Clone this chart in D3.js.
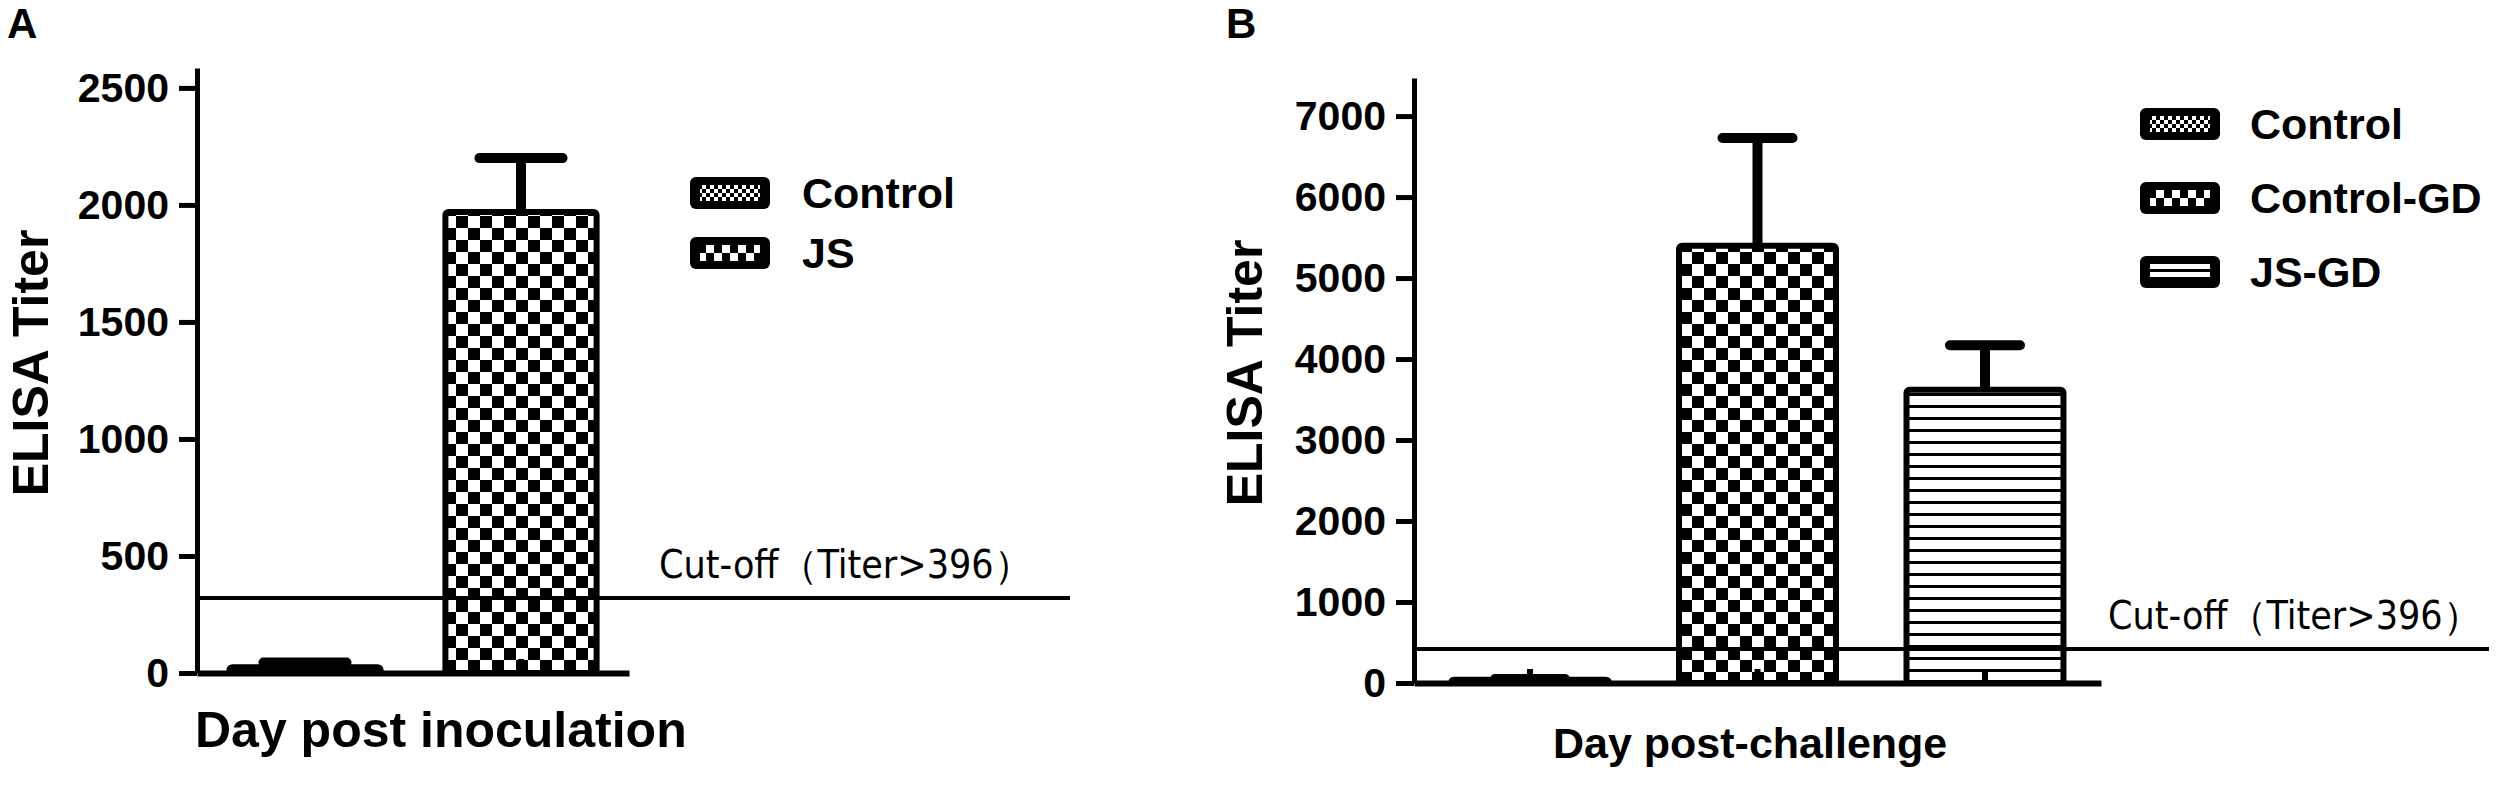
<!DOCTYPE html>
<html>
<head>
<meta charset="utf-8">
<script src="https://cdn.jsdelivr.net/npm/d3@7"></script>
<style>
  body { margin: 0; background: #fff; }
  text { font-family: "Liberation Sans", Arial, sans-serif; fill: #000; }
  .narrow { font-family: "Liberation Sans Narrow", "Arial Narrow", "DejaVu Sans Condensed", sans-serif; }
</style>
</head>
<body>
<div id="chart"></div>
<script>
// panel A - after inoculation
var categoriesA = ["Control", "JS"];
var meansA = [25, 1970];
var errorsA = [20, 230];
var ticksA = [0, 500, 1000, 1500, 2000, 2500];
var cutoffA = 320;

// panel B - after challenge
var categoriesB = ["Control", "Control-GD", "JS-GD"];
var meansB = [40, 5400, 3620];
var errorsB = [10, 1330, 550];
var ticksB = [0, 1000, 2000, 3000, 4000, 5000, 6000, 7000];
var cutoffB = 420;

var cutoffLabel = "Cut-off（Titer>396）";

var W = 2498, H = 788;

var svg = d3.select("#chart")
  .append("svg")
  .attr("width", W)
  .attr("height", H);

svg.append("rect").attr("width", W).attr("height", H).attr("fill", "#fff");

var defs = svg.append("defs");

function makeChecker(id, cell) {
  var p = defs.append("pattern")
    .attr("id", id)
    .attr("patternUnits", "userSpaceOnUse")
    .attr("width", cell * 2)
    .attr("height", cell * 2);
  p.append("rect").attr("width", cell * 2).attr("height", cell * 2).attr("fill", "#fff");
  p.append("rect").attr("width", cell).attr("height", cell).attr("fill", "#000");
  p.append("rect").attr("x", cell).attr("y", cell).attr("width", cell).attr("height", cell).attr("fill", "#000");
}

function makeStripes(id, period, lw) {
  var p = defs.append("pattern")
    .attr("id", id)
    .attr("patternUnits", "userSpaceOnUse")
    .attr("width", period)
    .attr("height", period);
  p.append("rect").attr("width", period).attr("height", period).attr("fill", "#fff");
  p.append("rect").attr("y", period - lw).attr("width", period).attr("height", lw).attr("fill", "#000");
}

makeChecker("fine", 4);
makeChecker("checker", 12);
makeChecker("checkerSmall", 8);
makeStripes("stripes", 12, 3);
makeStripes("stripesSmall", 8, 3);

function drawPanel(o) {
  var g = svg.append("g");

  var y = d3.scaleLinear()
    .domain([0, o.yMax])
    .range([o.bottom, o.top]);

  var x = d3.scaleBand()
    .domain(o.categories)
    .range([o.axisX, o.xEnd])
    .paddingInner(o.padIn)
    .paddingOuter(o.padOut);

  // bars
  g.selectAll(".bar")
    .data(o.categories)
    .enter()
    .append("rect")
    .attr("class", "bar")
    .attr("x", function(d) { return x(d); })
    .attr("y", function(d, i) { return y(o.means[i]); })
    .attr("width", x.bandwidth())
    .attr("height", function(d, i) { return y(0) - y(o.means[i]); })
    .attr("rx", 3)
    .attr("fill", function(d, i) { return "url(#" + o.fills[i] + ")"; })
    .attr("stroke", "#000")
    .attr("stroke-width", 6);

  // error bars (upper only)
  g.selectAll(".stem")
    .data(o.categories)
    .enter()
    .append("line")
    .attr("x1", function(d) { return x(d) + x.bandwidth() / 2; })
    .attr("x2", function(d) { return x(d) + x.bandwidth() / 2; })
    .attr("y1", function(d, i) { return y(o.means[i]); })
    .attr("y2", function(d, i) { return y(o.means[i] + o.errors[i]); })
    .attr("stroke", "#000")
    .attr("stroke-width", 10);

  g.selectAll(".cap")
    .data(o.categories)
    .enter()
    .append("line")
    .attr("x1", function(d) { return x(d) + x.bandwidth() / 2 - o.capW / 2 + 5; })
    .attr("x2", function(d) { return x(d) + x.bandwidth() / 2 + o.capW / 2 - 5; })
    .attr("y1", function(d, i) { return y(o.means[i] + o.errors[i]); })
    .attr("y2", function(d, i) { return y(o.means[i] + o.errors[i]); })
    .attr("stroke", "#000")
    .attr("stroke-width", 10)
    .attr("stroke-linecap", "round");

  // cut-off line
  g.append("line")
    .attr("x1", o.axisX)
    .attr("x2", o.cutEnd)
    .attr("y1", y(o.cutoff))
    .attr("y2", y(o.cutoff))
    .attr("stroke", "#000")
    .attr("stroke-width", 4);

  g.append("text")
    .attr("class", "narrow")
    .attr("x", o.cutLabelX)
    .attr("y", y(o.cutoff) - 20)
    .attr("font-size", 39)
    .text(cutoffLabel);

  // x axis
  g.append("g")
    .attr("transform", "translate(0," + y(0) + ")")
    .call(d3.axisBottom(x).tickSizeInner(-14).tickSizeOuter(0).tickFormat(""))
    .call(function(a) {
      a.selectAll("path, line").attr("stroke", "#000").attr("stroke-width", 6);
    });

  // y axis
  g.append("g")
    .attr("transform", "translate(" + o.axisX + ",0)")
    .call(d3.axisLeft(y).tickValues(o.ticks).tickFormat(d3.format("d"))
      .tickSize(18).tickSizeOuter(0).tickPadding(10))
    .call(function(a) {
      a.selectAll("path, line").attr("stroke", "#000").attr("stroke-width", 5);
      a.selectAll("text")
        .attr("font-size", 41)
        .attr("font-weight", "bold")
        .attr("font-family", "'Liberation Sans', Arial, sans-serif");
    });

  // axis titles
  g.append("text")
    .attr("transform", "translate(" + o.titleX + "," + o.titleY + ") rotate(-90)")
    .attr("text-anchor", "middle")
    .attr("font-size", 50)
    .attr("font-weight", "bold")
    .text("ELISA Titer");

  g.append("text")
    .attr("x", o.xTitleX)
    .attr("y", o.xTitleY)
    .attr("font-size", o.xTitleSize)
    .attr("font-weight", "bold")
    .text(o.xTitle);

  // panel letter
  g.append("text")
    .attr("x", o.letterX)
    .attr("y", 38)
    .attr("font-size", 42)
    .attr("font-weight", "bold")
    .text(o.letter);

  // legend
  var leg = g.selectAll(".leg")
    .data(o.categories)
    .enter()
    .append("g")
    .attr("transform", function(d, i) { return "translate(" + o.legX + "," + (o.legY + i * o.legStep) + ")"; });

  leg.append("rect")
    .attr("y", -16)
    .attr("width", 80)
    .attr("height", 32)
    .attr("rx", 6)
    .attr("fill", "#000");

  leg.append("rect")
    .attr("x", 10)
    .attr("y", -8)
    .attr("width", 60)
    .attr("height", 16)
    .attr("fill", function(d, i) { return "url(#" + o.legFills[i] + ")"; });

  leg.append("text")
    .attr("x", o.legTextX)
    .attr("y", 15)
    .attr("font-size", 43)
    .attr("font-weight", "bold")
    .text(function(d) { return d; });
}

drawPanel({
  categories: categoriesA, means: meansA, errors: errorsA, ticks: ticksA, cutoff: cutoffA,
  yMax: 2585, top: 68, bottom: 673, axisX: 197, xEnd: 629, padIn: 0.3, padOut: 0.15,
  fills: ["fine", "checker"], legFills: ["fine", "checkerSmall"], capW: 93,
  cutEnd: 1070, cutLabelX: 659,
  titleX: 48, titleY: 363, xTitle: "Day post inoculation", xTitleX: 195, xTitleY: 747, xTitleSize: 50,
  letter: "A", letterX: 7,
  legX: 690, legY: 193, legStep: 60, legTextX: 112
});

drawPanel({
  categories: categoriesB, means: meansB, errors: errorsB, ticks: ticksB, cutoff: cutoffB,
  yMax: 7470, top: 78, bottom: 683, axisX: 1414, xEnd: 2101, padIn: 0.31, padOut: 0.165,
  fills: ["fine", "checker", "stripes"], legFills: ["fine", "checkerSmall", "stripesSmall"], capW: 80,
  cutEnd: 2489, cutLabelX: 2108,
  titleX: 1262, titleY: 373, xTitle: "Day post-challenge", xTitleX: 1553, xTitleY: 758, xTitleSize: 43,
  letter: "B", letterX: 1226,
  legX: 2140, legY: 124, legStep: 74, legTextX: 110
});
</script>
</body>
</html>
